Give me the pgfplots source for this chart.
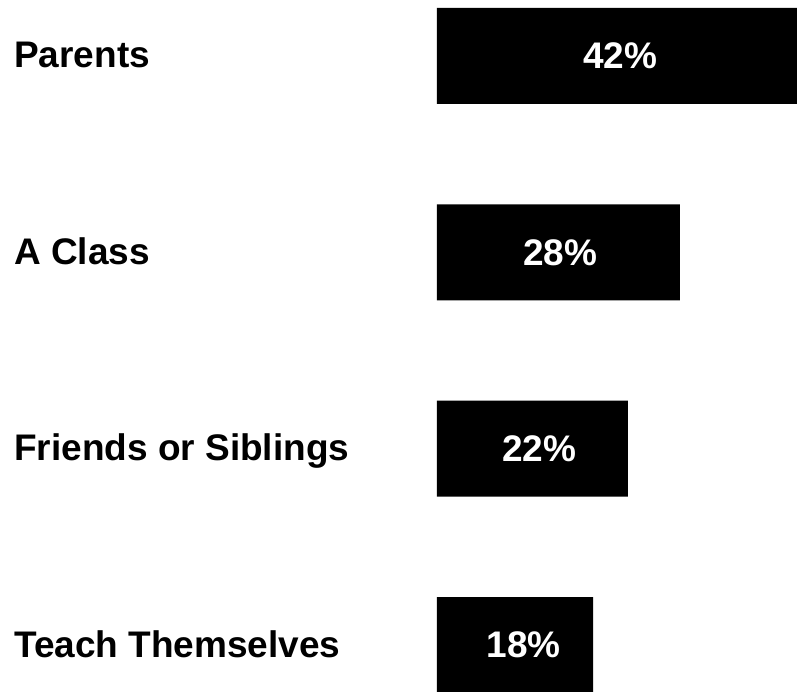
\documentclass[border=0pt]{standalone}
\usepackage{pgfplots}
\pgfplotsset{compat=1.18}
\usepackage{fontspec}
\setmainfont{Liberation Sans}
\begin{document}
\begin{tikzpicture}
\begin{axis}[
  scale only axis,
  width=360pt, height=692pt,
  xmin=0, xmax=41.5,
  ymin=-0.239, ymax=3.285,
  axis line style={draw=none},
  major tick length=0pt,
  xtick=\empty,
  ytick={0,1,2,3},
  yticklabels={Teach Themselves, Friends or Siblings, A Class, Parents},
  yticklabel style={anchor=base west, xshift=-423pt, yshift=-12pt, inner sep=0pt,
    font=\fontsize{37}{40}\selectfont\bfseries},
]
\addplot[xbar, bar shift=0pt, bar width=0.489, fill=black, draw=none]
  coordinates {(18,0) (22,1) (28,2) (42,3)};
\addplot[draw=none, mark=none,
  nodes near coords, point meta=explicit symbolic,
  nodes near coords style={anchor=center, text=white,
    font=\fontsize{37}{40}\selectfont\bfseries}]
  coordinates {(10.0,0) [18\%] (11.8,1) [22\%] (14.2,2) [28\%] (21.1,3) [42\%]};
\coordinate (A) at (rel axis cs:0,0);
\coordinate (B) at (rel axis cs:1,1);
\end{axis}
\pgfresetboundingbox
\path[use as bounding box] ([xshift=-437pt]A) rectangle (B);
\end{tikzpicture}
\end{document}
